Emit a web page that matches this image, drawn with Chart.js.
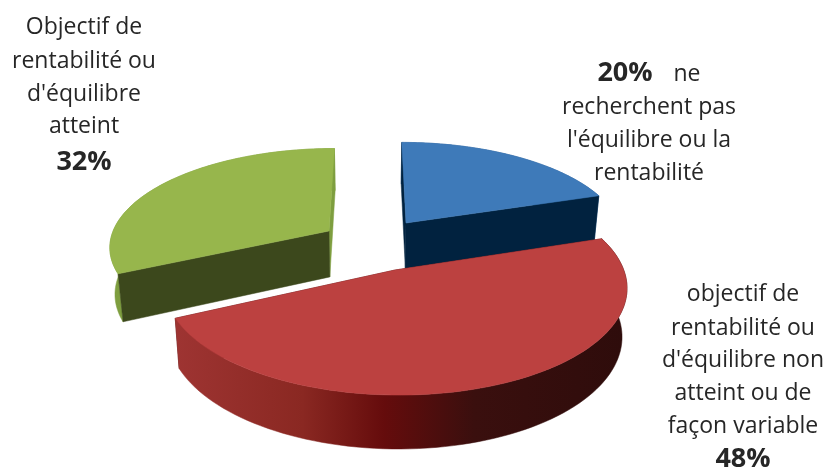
<!DOCTYPE html>
<html lang="fr"><head><meta charset="utf-8">
<style>html,body{margin:0;padding:0;background:#fff}canvas{display:block}</style>
<script src="https://cdn.jsdelivr.net/npm/chart.js@4"></script>
</head><body><canvas id="c" width="827" height="469"></canvas>
<script>
const categories = ["Ne recherchent pas l'équilibre ou la rentabilité","Objectif de rentabilité ou d'équilibre non atteint ou de façon variable","Objectif de rentabilité ou d'équilibre atteint"];
const shares = [20,48,32];
const topColours = ['#3E7AB9','#BC4140','#97B64C'];
const rimColours = ['#2F5E94','#9C3331','#7E9E3F'];
const edgeColours = ['#01223F','#4A0B0B','#3C481C'];
const sliceApex = [[406,223],[395,270],[329,231]];
const textBlocks = [
 {x:84,lines:[["Objectif de",34],["rentabilité ou",68],["d'équilibre",101],["atteint",133]]},
 {x:84,bold:true,lines:[["32%",170]]},
 {x:625,bold:true,lines:[["20%",81]]},
 {x:687,lines:[["ne",81]]},
 {x:649,lines:[["recherchent pas",114],["l'équilibre ou la",147],["rentabilité",180]]},
 {x:743,lines:[["objectif de",301],["rentabilité ou",335],["d'équilibre non",367],["atteint ou de",400],["façon variable",433]]},
 {x:743,bold:true,lines:[["48%",467]]}
];
const cam = {vx:372, vy:295, k:.48, p:.155, R0:232, H:50, depth:1.02};
function project(X,Y,low){
  let w=1-cam.p*Y/cam.R0; if(low) w*=cam.depth;
  return [cam.vx+X/w, cam.vy+(cam.k*Y+(low?cam.H:0))/w];
}
function apexToPlane(a){
  const d=a[1]-cam.vy, Y=d/(cam.k+cam.p*d/cam.R0);
  return [(a[0]-cam.vx)*(1-cam.p*Y/cam.R0),Y];
}
function poly(ctx,pts,fill){
  ctx.beginPath(); pts.forEach((q,i)=>i?ctx.lineTo(q[0],q[1]):ctx.moveTo(q[0],q[1]));
  ctx.closePath(); ctx.fillStyle=fill; ctx.fill();
  ctx.strokeStyle=fill; ctx.lineWidth=.5; ctx.stroke();
}
const slice3d = {
  id:'slice3d',
  beforeDatasetDraw(chart,args){
    const ctx=chart.ctx, arcs=chart.getDatasetMeta(args.index).data;
    const redGrad=ctx.createLinearGradient(176,0,628,0);
    [[0,'#9E3432'],[.28,'#8A2822'],[.46,'#650C0C'],[.66,'#3A0F0E'],[1,'#2E0C0B']].forEach(s=>redGrad.addColorStop(s[0],s[1]));
    [0,2,1].forEach(i=>{
      const el=arcs[i], R=el.outerRadius, o=apexToPlane(sliceApex[i]);
      const a0=el.startAngle, a1=el.endAngle, n=90, rim=[];
      for(let j=0;j<=n;j++){const a=a0+(a1-a0)*j/n; rim.push([o[0]+R*Math.cos(a),o[1]+R*Math.sin(a)]);}
      const P=q=>project(q[0],q[1],false), L=q=>project(q[0],q[1],true);
      const first=rim[0], last=rim[n];
      const radial = q => [P(o),P(q),L(q),L(o)];
      const wall=rim.map(P).concat(rim.slice().reverse().map(L));
      const drawRim=()=>poly(ctx,wall,i===1?redGrad:rimColours[i]);
      if(i!==1) drawRim();
      poly(ctx,radial(last),i===2?rimColours[2]:edgeColours[i]);
      poly(ctx,radial(first),edgeColours[i]);
      if(i===1) drawRim();
      poly(ctx,[P(o)].concat(rim.map(P)),topColours[i]);
    });
    return false;
  },
  afterDraw(chart){
    const ctx=chart.ctx; ctx.textAlign='center'; ctx.textBaseline='alphabetic'; ctx.fillStyle='#262626';
    textBlocks.forEach(b=>{
      ctx.font=(b.bold?'bold 27px':'23px')+' "Open Sans"';
      b.lines.forEach(l=>ctx.fillText(l[0],b.x,l[1]));
    });
  }
};
new Chart(document.getElementById('c'),{
  type:'pie',
  data:{labels:categories,datasets:[{data:shares,backgroundColor:topColours,borderWidth:0}]},
  options:{responsive:false,animation:false,radius:237,
    plugins:{legend:{display:false},tooltip:{enabled:false}}},
  plugins:[slice3d]
});
</script></body></html>
